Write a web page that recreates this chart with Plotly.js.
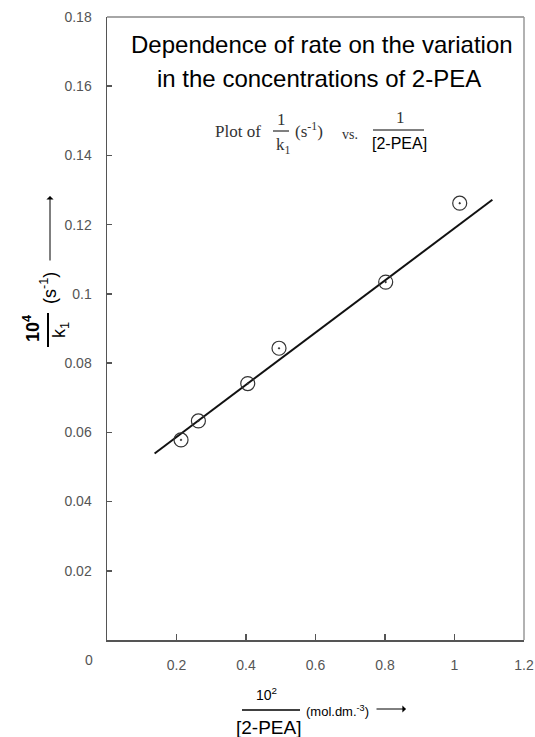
<!DOCTYPE html>
<html>
<head>
<meta charset="utf-8">
<script src="https://cdn.plot.ly/plotly-3.0.1.min.js"></script>
<style>html,body{margin:0;padding:0;background:#fff;}#chart{width:535px;height:737px;}</style>
</head>
<body>
<div id="chart"></div>
<script>
// Data
const xVals = [0.213, 0.263, 0.405, 0.495, 0.802, 1.015];
const yVals = [0.0578, 0.0633, 0.0741, 0.0843, 0.1034, 0.1262];
const fitX = [0.137, 1.109];
const fitY = [0.0539, 0.1272];
const xTickVals = [0.2, 0.4, 0.6, 0.8, 1.0, 1.2];
const xTickText = ['0.2', '0.4', '0.6', '0.8', '1', '1.2'];
const yTickVals = [0.02, 0.04, 0.06, 0.08, 0.10, 0.12, 0.14, 0.16, 0.18];
const yTickText = ['0.02', '0.04', '0.06', '0.08', '0.1', '0.12', '0.14', '0.16', '0.18'];

const L = 107, R = 524, T = 17, B = 640;
const px = x => (x - L) / (R - L);
const py = y => (B - y) / (B - T);

const tickFam = 'Liberation Sans Narrow, Arial Narrow, Liberation Sans, Arial, sans-serif';
const sans = 'Liberation Sans, Arial, sans-serif';
const serif = 'Liberation Serif, Times New Roman, serif';

function ann(text, x, y, font, extra) {
  return Object.assign({
    text: text, x: px(x), y: py(y), xref: 'paper', yref: 'paper',
    xanchor: 'center', yanchor: 'middle', showarrow: false, font: font
  }, extra || {});
}
function hline(x0, x1, y, w) {
  return {type: 'line', xref: 'paper', yref: 'paper', x0: px(x0), x1: px(x1), y0: py(y), y1: py(y),
          line: {color: '#000', width: w || 1.5}};
}
function vline(x, y0, y1, w) {
  return {type: 'line', xref: 'paper', yref: 'paper', x0: px(x), x1: px(x), y0: py(y0), y1: py(y1),
          line: {color: '#000', width: w || 1.5}};
}

const traces = [
  {x: fitX, y: fitY, mode: 'lines', type: 'scatter', line: {color: '#111', width: 2}, hoverinfo: 'skip'},
  {x: xVals, y: yVals, mode: 'markers', type: 'scatter',
   marker: {symbol: 'circle-open-dot', size: 14, color: '#333', line: {color: '#333', width: 1.2}}}
];

const annotations = [
  ann('Dependence of rate on the variation', 322, 44, {family: sans, size: 24, color: '#000'}),
  ann('in the concentrations of 2-PEA', 319, 78, {family: sans, size: 24, color: '#000'}),
  ann('Plot of', 238, 131, {family: serif, size: 17, color: '#333'}),
  ann('1', 281, 119, {family: serif, size: 17, color: '#333'}),
  ann('k<sub>1</sub>', 283, 146, {family: serif, size: 17, color: '#333'}),
  ann('(s<sup>-1</sup>)', 309, 130, {family: serif, size: 17, color: '#333'}),
  ann('vs.', 350, 134, {family: serif, size: 14, color: '#333'}),
  ann('1', 400, 117, {family: serif, size: 17, color: '#333'}),
  ann('[2-PEA]', 399, 143, {family: sans, size: 16, color: '#000'}),
  // x-axis title
  ann('10<sup>2</sup>', 266, 694, {family: sans, size: 14, color: '#000'}),
  ann('[2-PEA]', 268, 727, {family: sans, size: 19, color: '#000'}),
  ann('(mol.dm.<sup>-3</sup>)', 337, 711, {family: sans, size: 13, color: '#000'}),
  {text: '', x: px(406), y: py(709), xref: 'paper', yref: 'paper', showarrow: true,
   ax: -31, ay: 0, arrowhead: 1, arrowsize: 1.2, arrowwidth: 1, arrowcolor: '#000'},
  // y-axis title (rotated)
  ann('<b>10<sup>4</sup></b>', 31, 329, {family: sans, size: 18, color: '#000'}, {textangle: -90}),
  ann('k<sub>1</sub>', 61, 330, {family: sans, size: 18, color: '#000'}, {textangle: -90}),
  ann('(s<sup>-1</sup>)', 48, 288, {family: sans, size: 18, color: '#000'}, {textangle: -90}),
  {text: '', x: px(50), y: py(196), xref: 'paper', yref: 'paper', showarrow: true,
   ax: 0, ay: 66, arrowhead: 1, arrowsize: 1.2, arrowwidth: 1, arrowcolor: '#000'},
  // shared origin label
  ann('0', 89, 660, {family: tickFam, size: 14, color: '#555'})
];

const shapes = [
  hline(273, 289, 131, 1),
  hline(373, 424, 130, 1),
  hline(242, 300, 710, 1.5),
  vline(48, 313, 347, 2),
  // frame top & right
  {type: 'line', xref: 'paper', yref: 'paper', x0: 0, x1: 1, y0: 1, y1: 1, line: {color: '#888', width: 1.5}},
  {type: 'line', xref: 'paper', yref: 'paper', x0: 1, x1: 1, y0: 0, y1: 1, line: {color: '#999', width: 1.5}}
];

const layout = {
  width: 535, height: 737,
  margin: {l: L, r: 535 - R, t: T, b: 737 - B, pad: 0},
  paper_bgcolor: '#fff', plot_bgcolor: '#fff',
  showlegend: false,
  xaxis: {
    range: [0, 1.2], tickvals: xTickVals, ticktext: xTickText,
    ticks: 'inside', ticklen: 6, tickwidth: 1.5, tickcolor: '#555',
    showline: true, linecolor: '#555', linewidth: 1.5,
    showgrid: false, zeroline: false, ticklabelstandoff: 12,
    ticklabeloverflow: 'allow',
    tickfont: {family: tickFam, size: 14, color: '#555'}
  },
  yaxis: {
    range: [0, 0.18], tickvals: yTickVals, ticktext: yTickText,
    ticks: 'inside', ticklen: 5, tickwidth: 1.5, tickcolor: '#555',
    showline: true, linecolor: '#555', linewidth: 1.5,
    showgrid: false, zeroline: false, ticklabelstandoff: 11,
    ticklabeloverflow: 'allow',
    tickfont: {family: tickFam, size: 14, color: '#555'}
  },
  annotations: annotations,
  shapes: shapes
};

Plotly.newPlot('chart', traces, layout, {displayModeBar: false, staticPlot: true});
</script>
</body>
</html>
